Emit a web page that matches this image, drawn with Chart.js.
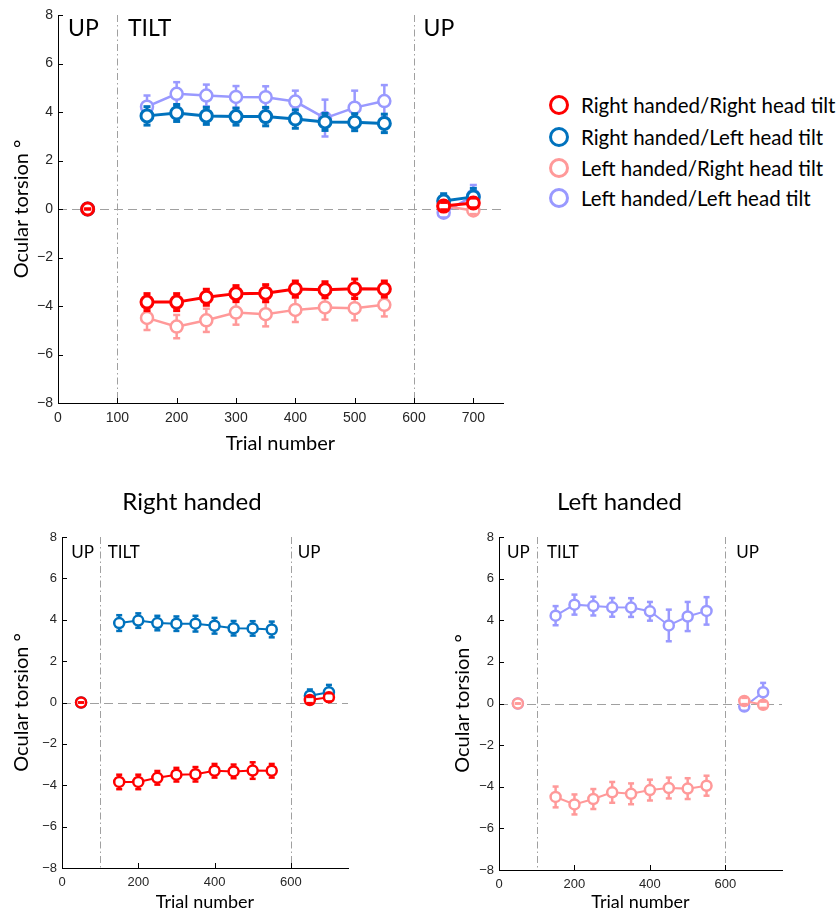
<!DOCTYPE html>
<html><head><meta charset="utf-8">
<script src="https://cdn.jsdelivr.net/npm/chart.js@4/dist/chart.umd.min.js"></script>
<style>
html,body{margin:0;padding:0;background:#fff}
body{width:839px;height:913px;position:relative;overflow:hidden;font-family:Lato,sans-serif}
canvas.c{position:absolute}
.lg-text{position:absolute;left:581px;white-space:nowrap;font:20.5px Lato,sans-serif;line-height:24px;color:#000}
.lg-dot{position:absolute;left:549px;width:14px;height:14px;border:3px solid;border-radius:50%;box-sizing:content-box;background:#fff}
</style></head>
<body>
<canvas id="topChart" class="c" width="520" height="460" style="left:0;top:0"></canvas>
<canvas id="rightChart" class="c" width="384" height="433" style="left:0;top:480px"></canvas>
<canvas id="leftChart" class="c" width="379" height="433" style="left:430px;top:480px"></canvas>
<div id="legend"></div>
<script>
// ---------------- data ----------------
const trials = [50, 150, 200, 250, 300, 350, 400, 450, 500, 550, 650, 700];
const phaseBounds = [100, 600];
const phaseLabels = ['UP', 'TILT', 'UP'];
const xTicksTop = [0, 100, 200, 300, 400, 500, 600, 700];
const xTicksBottom = [0, 200, 400, 600];
const yTicks = [-8, -6, -4, -2, 0, 2, 4, 6, 8];

const seriesNames = ['Right handed/Right head tilt', 'Right handed/Left head tilt', 'Left handed/Right head tilt', 'Left handed/Left head tilt'];
const rhRightTilt    = [0, -3.84, -3.84, -3.64, -3.49, -3.47, -3.30, -3.33, -3.29, -3.30, 0.12, 0.25];
const rhRightTiltErr = [0, 0.35, 0.35, 0.33, 0.33, 0.35, 0.33, 0.33, 0.40, 0.33, 0.15, 0.20];
const rhLeftTilt     = [0, 3.84, 3.96, 3.84, 3.81, 3.81, 3.71, 3.59, 3.58, 3.53, 0.33, 0.50];
const rhLeftTiltErr  = [0, 0.38, 0.35, 0.35, 0.35, 0.38, 0.38, 0.35, 0.35, 0.38, 0.30, 0.35];
const lhRightTilt    = [0, -4.49, -4.85, -4.59, -4.27, -4.34, -4.16, -4.06, -4.09, -3.95, 0.12, -0.06];
const lhRightTiltErr = [0, 0.50, 0.48, 0.48, 0.50, 0.50, 0.50, 0.50, 0.50, 0.48, 0.15, 0.15];
const lhLeftTilt     = [0, 4.22, 4.75, 4.68, 4.62, 4.61, 4.43, 3.75, 4.18, 4.45, -0.15, 0.54];
const lhLeftTiltErr  = [0, 0.46, 0.48, 0.45, 0.45, 0.45, 0.45, 0.76, 0.70, 0.66, 0.20, 0.45];

const colors = ['#FF0000', '#0072BD', '#FF9999', '#9999FF'];

// ---------------- helpers ----------------
function toPoints(vals, errs) {
  const pts = [];
  trials.forEach((t, i) => {
    if (i > 0 && phaseBounds.some(b => trials[i - 1] < b && t > b)) pts.push({x: (trials[i - 1] + t) / 2, y: null, err: null});
    pts.push({x: t, y: vals[i], err: errs[i]});
  });
  return pts;
}
const minusFmt = v => (v < 0 ? '\u2212' + Math.abs(v) : String(v));

const refPlugin = {
  id: 'refLines',
  beforeDatasetsDraw(chart, args, o) {
    const {ctx, chartArea: ca, scales: {x, y}} = chart;
    ctx.save();
    ctx.strokeStyle = '#a0a0a0';
    ctx.lineWidth = 1;
    ctx.setLineDash([9, 5]);
    const y0 = Math.round(y.getPixelForValue(0)) + 0.5;
    ctx.beginPath(); ctx.moveTo(ca.left, y0); ctx.lineTo(ca.right, y0); ctx.stroke();
    ctx.setLineDash([7, 3, 1.5, 3]);
    phaseBounds.forEach(b => {
      const px = Math.round(x.getPixelForValue(b)) + 0.5;
      ctx.beginPath(); ctx.moveTo(px, ca.top); ctx.lineTo(px, ca.bottom); ctx.stroke();
    });
    ctx.setLineDash([]);
    ctx.fillStyle = '#000';
    ctx.font = o.labelSize + 'px Lato, sans-serif';
    ctx.textBaseline = 'alphabetic';
    ctx.textAlign = 'left';
    phaseLabels.forEach((t, i) => {
      ctx.fillText(t, x.getPixelForValue(o.labelX[i]), ca.top + o.labelDy);
    });
    ctx.restore();
  },
  afterDraw(chart) {
    const {ctx, chartArea: ca, scales: {x, y}} = chart;
    ctx.save();
    ctx.strokeStyle = '#000'; ctx.lineWidth = 1;
    ctx.beginPath();
    x.ticks.forEach(t => { const px = Math.round(x.getPixelForValue(t.value)) + 0.5; ctx.moveTo(px, ca.bottom); ctx.lineTo(px, ca.bottom - 5); });
    y.ticks.forEach(t => { const py = Math.round(y.getPixelForValue(t.value)) + 0.5; ctx.moveTo(ca.left, py); ctx.lineTo(ca.left + 5, py); });
    ctx.stroke();
    ctx.restore();
  }
};

const errPlugin = {
  id: 'errorBars',
  beforeDatasetDraw(chart, args) {
    const ds = chart.data.datasets[args.index];
    const y = chart.scales.y, ctx = chart.ctx;
    ctx.save();
    ctx.strokeStyle = ds.borderColor; ctx.lineWidth = ds.errWidth;
    args.meta.data.forEach((el, i) => {
      const d = ds.data[i];
      if (d.y == null || !d.err) return;
      ctx.beginPath();
      ctx.moveTo(el.x, y.getPixelForValue(d.y + d.err));
      ctx.lineTo(el.x, y.getPixelForValue(d.y - d.err));
      ctx.stroke();
    });
    ctx.restore();
  },
  afterDatasetDraw(chart, args) {
    const ds = chart.data.datasets[args.index];
    const y = chart.scales.y, ctx = chart.ctx, w = ds.capHalf;
    ctx.save();
    ctx.strokeStyle = ds.borderColor; ctx.lineWidth = ds.errWidth;
    args.meta.data.forEach((el, i) => {
      const d = ds.data[i];
      if (d.y == null) return;
      [d.y + d.err, d.y - d.err].forEach(v => {
        const py = y.getPixelForValue(v);
        ctx.beginPath(); ctx.moveTo(el.x - w, py); ctx.lineTo(el.x + w, py); ctx.stroke();
      });
    });
    ctx.restore();
  }
};

const allSeries = [
  {name: seriesNames[0], vals: rhRightTilt, errs: rhRightTiltErr, color: colors[0], strong: true},
  {name: seriesNames[1], vals: rhLeftTilt, errs: rhLeftTiltErr, color: colors[1], strong: true},
  {name: seriesNames[2], vals: lhRightTilt, errs: lhRightTiltErr, color: colors[2], strong: false},
  {name: seriesNames[3], vals: lhLeftTilt, errs: lhLeftTiltErr, color: colors[3], strong: false}
];

function build(id, s) {
  return new Chart(document.getElementById(id), {
    type: 'line',
    data: {
      datasets: s.series.map(se => ({
        label: se.name,
        data: toPoints(se.vals, se.errs),
        borderColor: se.color,
        backgroundColor: '#fff',
        pointBackgroundColor: '#fff',
        pointBorderColor: se.color,
        borderWidth: s.big ? (se.strong ? 3 : 2.5) : 2,
        pointRadius: s.big ? 6 : 5,
        pointHoverRadius: s.big ? 6 : 5,
        pointBorderWidth: s.big ? (se.strong ? 3 : 2.5) : 2.5,
        errWidth: s.big ? (se.strong ? 3 : 2.5) : 2.5,
        capHalf: s.big ? 3.5 : 3,
        spanGaps: false,
        tension: 0,
        fill: false
      }))
    },
    options: {
      responsive: false, animation: false, devicePixelRatio: 1, events: [],
      layout: {padding: {left: 0, top: s.padTop, right: s.padRight, bottom: 0}},
      plugins: {
        legend: {display: false},
        tooltip: {enabled: false},
        title: s.title ? {display: true, text: s.title, color: '#000', font: {family: 'Lato', size: 24, weight: 'normal'}, padding: {top: 8, bottom: 20.2}} : {display: false},
        refLines: {labelX: s.labelX, labelSize: s.labelSize, labelDy: s.labelDy}
      },
      scales: {
        x: {
          type: 'linear', min: 0, max: 750,
          afterBuildTicks: sc => { sc.ticks = s.xTicks.map(v => ({value: v})); },
          afterFit: sc => { sc.height = s.xHeight; },
          grid: {display: false, drawTicks: false},
          border: {display: true, color: '#000', width: 1},
          ticks: {color: '#262626', font: {family: 'Liberation Sans', size: s.tickSize}, padding: s.big ? 7 : 6.5, maxRotation: 0, autoSkip: false},
          title: {display: true, text: 'Trial number', color: '#000', font: {family: 'Lato', size: s.xTitleSize}, padding: {top: 0, bottom: s.xTitlePad}}
        },
        y: {
          type: 'linear', min: -8, max: 8, position: 'left',
          afterBuildTicks: sc => { sc.ticks = yTicks.map(v => ({value: v})); },
          afterFit: sc => { sc.width = s.yWidth; },
          grid: {display: false, drawTicks: false},
          border: {display: true, color: '#000', width: 1},
          ticks: {color: '#262626', font: {family: 'Liberation Sans', size: s.tickSize}, padding: 5, callback: minusFmt, autoSkip: false},
          title: {display: true, text: 'Ocular torsion \u00B0', color: '#000', font: {family: 'Lato', size: 20}, padding: {top: s.yTitlePad, bottom: 0}}
        },
        yPad: {
          type: 'linear', position: 'right', display: true,
          afterFit: sc => { sc.width = s.rightGap; },
          grid: {display: false, drawTicks: false},
          border: {display: false},
          ticks: {display: false}
        }
      }
    },
    plugins: [refPlugin, errPlugin]
  });
}

build('topChart', {
  series: allSeries, big: true, padTop: 15, padRight: 0, rightGap: 17,
  xHeight: 57, yWidth: 58, xTicks: xTicksTop, tickSize: 14,
  xTitleSize: 20, xTitlePad: 4, yTitlePad: 10,
  labelX: [17, 118, 616], labelSize: 23, labelDy: 21
});
build('rightChart', {
  series: [allSeries[0], allSeries[1]], big: false, padTop: 0, padRight: 0, rightGap: 36,
  title: 'Right handed',
  xHeight: 45, yWidth: 62, xTicks: xTicksBottom, tickSize: 13,
  xTitleSize: 18, xTitlePad: 0, yTitlePad: 10,
  labelX: [24, 120, 618], labelSize: 17, labelDy: 21
});
build('leftChart', {
  series: [allSeries[2], allSeries[3]], big: false, padTop: 0, padRight: 0, rightGap: 27,
  title: 'Left handed',
  xHeight: 43, yWidth: 69, xTicks: xTicksBottom, tickSize: 13,
  xTitleSize: 18, xTitlePad: 0, yTitlePad: 21,
  labelX: [21, 127, 629], labelSize: 17, labelDy: 21
});

// legend (HTML)
const lg = document.getElementById('legend');
const lgTops = [93, 125, 156, 186];
allSeries.forEach((se, i) => {
  const dot = document.createElement('div');
  dot.className = 'lg-dot';
  dot.style.borderColor = se.color;
  dot.style.top = (lgTops[i] + 2) + 'px';
  lg.appendChild(dot);
  const tx = document.createElement('div');
  tx.className = 'lg-text';
  tx.style.top = lgTops[i] + 'px';
  tx.textContent = se.name;
  lg.appendChild(tx);
});
</script>
</body></html>
